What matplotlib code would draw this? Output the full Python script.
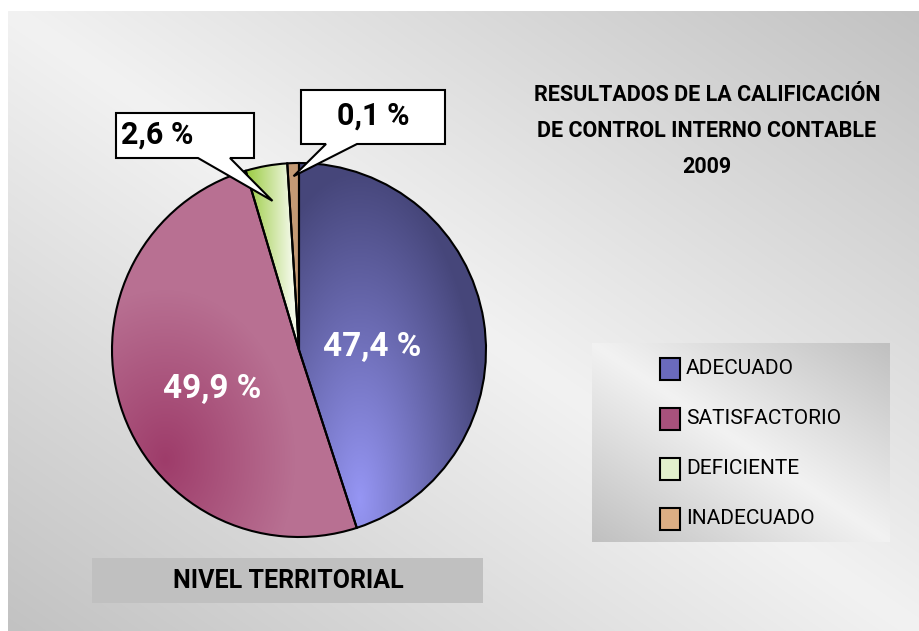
import numpy as np
import matplotlib
matplotlib.use('Agg')
import matplotlib.pyplot as plt
from matplotlib.patches import Polygon, Rectangle

plt.rcParams['font.family'] = ['Roboto', 'DejaVu Sans']

# data
categories = ['ADECUADO', 'SATISFACTORIO', 'DEFICIENTE', 'INADECUADO']
shares = [45.0, 50.4, 3.6, 1.0]          # slice sizes as drawn
pct_labels = ['47,4 %', '49,9 %', '2,6 %', '0,1 %']
title_lines = ['RESULTADOS DE LA CALIFICACIÓN', 'DE CONTROL INTERNO CONTABLE', '2009']
subtitle = 'NIVEL TERRITORIAL'

W, H = 919, 631
fig = plt.figure(figsize=(W / 100, H / 100), dpi=100)
ax = fig.add_axes([0, 0, 1, 1])


def gray_diag(X, Y, x0, x1, y0, y1, light=242, dark=194):
    t = (X - x0) / (x1 - x0) - (Y - y0) / (y1 - y0)
    v = (light - (light - dark) * np.abs(t)) / 255.0
    return np.dstack([v, v, v])


def grad(x0, x1, y0, y1, func):
    xs = np.linspace(x0, x1, int(x1 - x0))
    ys = np.linspace(y0, y1, int(y1 - y0))
    X, Y = np.meshgrid(xs, ys)
    return func(X, Y)


def blend(c1, c2, t):
    c1 = np.array(c1) / 255.0
    c2 = np.array(c2) / 255.0
    t = np.clip(t, 0, 1)[..., None]
    return c1 + (c2 - c1) * t


# background
bg = grad(8, W, 11, H, lambda X, Y: gray_diag(X, Y, 8, W, 11, H))
ax.imshow(bg, extent=(8, W, H, 11), zorder=0, interpolation='bilinear')

# pie
cx, cy, R = 299, 350, 187
wedges, _ = ax.pie(shares, startangle=-90, counterclock=True, center=(cx, cy), radius=R,
                   colors=['none'] * 4,
                   wedgeprops=dict(edgecolor='black', linewidth=1.5, zorder=3))

fills = [
    lambda X, Y: blend((150, 150, 244), (70, 70, 122),
                       np.sqrt(((X - 360) / 130) ** 2 + ((Y - 500) / 330) ** 2)),
    lambda X, Y: blend((158, 60, 106), (184, 112, 146),
                       np.sqrt(((X - 165) / 130) ** 2 + ((Y - 460) / 170) ** 2)),
    lambda X, Y: blend((156, 204, 68), (242, 248, 230), (X - 247) / 45),
    lambda X, Y: blend((196, 154, 116), (196, 154, 116), X * 0),
]
for w, f in zip(wedges, fills):
    img = grad(cx - R - 2, cx + R + 2, cy - R - 2, cy + R + 2, f)
    im = ax.imshow(img, extent=(cx - R - 2, cx + R + 2, cy + R + 2, cy - R - 2),
                   zorder=2, interpolation='bilinear')
    im.set_clip_path(w)

# labels inside the two big slices
ax.text(372, 347, pct_labels[0], color='white', fontsize=24, fontweight='bold',
        ha='center', va='center', zorder=5)
ax.text(212, 389, pct_labels[1], color='white', fontsize=24, fontweight='bold',
        ha='center', va='center', zorder=5)

# callouts for the small slices
callouts = [
    (2, (116, 254, 113, 158), (198, 230), 0.81, (157, 135)),
    (3, (301, 445, 90, 144), (326, 357), 0.93, (373, 116)),
]
for i, (bx0, bx1, by0, by1), (p0, p1), frac, (tx, ty) in callouts:
    w = wedges[i]
    mid = np.deg2rad((w.theta1 + w.theta2) / 2)
    tip = (cx + frac * R * np.cos(mid), cy + frac * R * np.sin(mid))
    verts = [(bx0, by0), (bx1, by0), (bx1, by1), (p1, by1), tip, (p0, by1), (bx0, by1)]
    ax.add_patch(Polygon(verts, closed=True, facecolor='white', edgecolor='black',
                         linewidth=1.5, zorder=6))
    ax.text(tx, ty, pct_labels[i], color='black', fontsize=22, fontweight='bold',
            ha='center', va='center', zorder=7)

# title
for k, line in enumerate(title_lines):
    ax.text(707, 95 + 36 * k, line, fontsize=15.5, fontweight='bold',
            ha='center', va='center', zorder=5)

# legend box
lx0, lx1, ly0, ly1 = 592, 890, 343, 542
lg = grad(lx0, lx1, ly0, ly1, lambda X, Y: gray_diag(X, Y, lx0, lx1, ly0, ly1, 242, 192))
ax.imshow(lg, extent=(lx0, lx1, ly1, ly0), zorder=1, interpolation='bilinear')
swatch = ['#6a6abc', '#a8517c', '#e2f0cc', '#dcae84']
for k, (name, c) in enumerate(zip(categories, swatch)):
    yc = 369 + 50 * k
    ax.add_patch(Rectangle((660, yc - 11), 20, 22, facecolor=c, edgecolor='black',
                           linewidth=1.5, zorder=5))
    ax.text(686, yc, name, fontsize=15, ha='left', va='center', zorder=5)

# bottom caption box
ax.add_patch(Rectangle((92, 558), 391, 45, facecolor='#c0c0c0', edgecolor='none', zorder=1))
ax.text(288, 581, subtitle, fontsize=18, fontweight='bold', ha='center', va='center', zorder=5)

ax.set_xlim(0, W)
ax.set_ylim(H, 0)
ax.set_aspect('auto')
ax.axis('off')
fig.patch.set_facecolor('white')
plt.savefig('out.png', dpi=100)
